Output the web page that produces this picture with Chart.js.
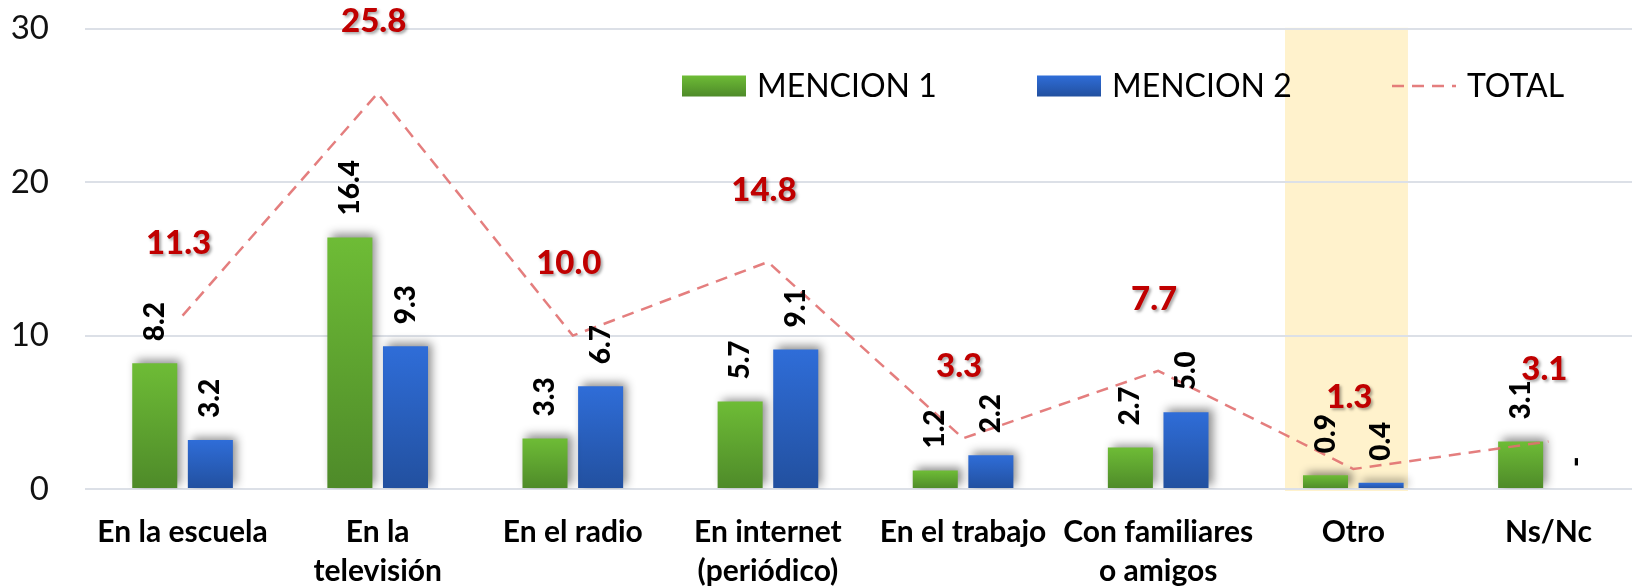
<!DOCTYPE html>
<html>
<head>
<meta charset="utf-8">
<script src="https://cdn.jsdelivr.net/npm/chart.js@4"></script>
<style>
  html, body { margin: 0; padding: 0; background: #ffffff; overflow: hidden; }
  #wrap { position: absolute; left: 0; top: -27px; width: 1646px; height: 614px; }
</style>
</head>
<body>
<div id="wrap"><canvas id="c"></canvas></div>
<script>
// ---- data ----
const categories = ["En la escuela", ["En la", "televisión"], "En el radio", ["En internet", "(periódico)"], "En el trabajo", ["Con familiares", "o amigos"], "Otro", "Ns/Nc"];
const mencion1 = [8.2, 16.4, 3.3, 5.7, 1.2, 2.7, 0.9, 3.1];
const mencion2 = [3.2, 9.3, 6.7, 9.1, 2.2, 5.0, 0.4, null];
const total = [11.3, 25.8, 10.0, 14.8, 3.3, 7.7, 1.3, 3.1];
const yTicks = [0, 10, 20, 30];
const highlightIndex = 6; // "Otro"

// ---- styles ----
const GREEN = ["#6EBC36", "#4E8A29"];
const BLUE = ["#2F6DD8", "#22509F"];
const LINE_COLOR = "rgba(225,112,112,0.9)";
const FONT = "Lato, 'Open Sans', sans-serif";
const SHIFT = 27; // canvas is shifted up by this many pixels

function barGradient(cols) {
  return function (ctx) {
    const chart = ctx.chart;
    if (!chart.chartArea || ctx.type !== "data") return cols[1];
    const ys = chart.scales.y;
    const v = ctx.raw;
    if (v == null) return cols[1];
    const y0 = ys.getPixelForValue(0), y1 = ys.getPixelForValue(v);
    if (Math.abs(y0 - y1) < 1) return cols[0];
    const g = chart.ctx.createLinearGradient(0, y1, 0, y0);
    g.addColorStop(0, cols[0]);
    g.addColorStop(1, cols[1]);
    return g;
  };
}

const bgPlugin = {
  id: "bg",
  beforeDraw(chart) {
    const c = chart.ctx, a = chart.chartArea, xs = chart.scales.x;
    c.save();
    c.fillStyle = "#ffffff";
    c.fillRect(0, 0, chart.width, chart.height);
    const w = xs.width / categories.length;
    const cx = xs.getPixelForValue(highlightIndex);
    c.fillStyle = "#FFF2CC";
    c.fillRect(cx - 0.35 * w, a.top - 1, 0.63 * w, a.bottom - a.top + 3);
    c.restore();
  }
};

const shadowPlugin = {
  id: "barShadow",
  beforeDatasetDraw(chart, args) {
    if (chart.data.datasets[args.index].type === "line") return;
    const c = chart.ctx;
    c.save();
    c.shadowColor = "rgba(0,0,0,0.45)";
    c.shadowBlur = 9;
    c.shadowOffsetX = 4;
    c.shadowOffsetY = -3;
  },
  afterDatasetDraw(chart, args) {
    if (chart.data.datasets[args.index].type === "line") return;
    chart.ctx.restore();
  }
};

const labelPlugin = {
  id: "labels",
  afterDatasetsDraw(chart) {
    const c = chart.ctx;
    const ys = chart.scales.y;
    chart.data.datasets.forEach((ds, di) => {
      const meta = chart.getDatasetMeta(di);
      if (ds.type === "line") {
        meta.data.forEach((pt, i) => {
          c.save();
          c.font = "900 33px " + FONT;
          c.fillStyle = "#C00000";
          c.textAlign = "center";
          c.textBaseline = "middle";
          c.shadowColor = "rgba(0,0,0,0.35)";
          c.shadowBlur = 3;
          c.shadowOffsetX = 2;
          c.shadowOffsetY = 2;
          c.fillText(ds.data[i].toFixed(1), pt.x - 4, pt.y - 72);
          c.restore();
        });
      } else {
        meta.data.forEach((el, i) => {
          const v = ds.data[i];
          const top = v == null ? ys.getPixelForValue(0) : el.y;
          const txt = v == null ? "-" : v.toFixed(1);
          c.save();
          c.font = "900 28px " + FONT;
          c.fillStyle = "#000000";
          c.translate(el.x, top - 22);
          c.rotate(-Math.PI / 2);
          c.textAlign = "left";
          c.textBaseline = "middle";
          c.fillText(txt, 0, 0);
          c.restore();
        });
      }
    });
  }
};

const legendPlugin = {
  id: "customLegend",
  afterDraw(chart) {
    const c = chart.ctx;
    const y = 86 + SHIFT;
    const startX = 682, step = 355, boxW = 64, boxH = 21;
    chart.data.datasets.forEach((ds, i) => {
      const x = startX + i * step;
      c.save();
      if (ds.type === "line") {
        c.strokeStyle = LINE_COLOR;
        c.lineWidth = 2.5;
        c.setLineDash([12, 8]);
        c.beginPath();
        c.moveTo(x, y);
        c.lineTo(x + boxW, y);
        c.stroke();
      } else {
        const cols = i === 0 ? GREEN : BLUE;
        const g = c.createLinearGradient(0, y - boxH / 2, 0, y + boxH / 2);
        g.addColorStop(0, cols[0]);
        g.addColorStop(1, cols[1]);
        c.fillStyle = g;
        c.fillRect(x, y - boxH / 2, boxW, boxH);
      }
      c.setLineDash([]);
      c.font = "32px " + FONT;
      c.fillStyle = "#000000";
      c.textAlign = "left";
      c.textBaseline = "middle";
      c.fillText(ds.label, x + boxW + 11, y + 1);
      c.restore();
    });
  }
};

new Chart(document.getElementById("c"), {
  data: {
    labels: categories,
    datasets: [
      { type: "bar", label: "MENCION 1", data: mencion1, backgroundColor: barGradient(GREEN), order: 1,
        categoryPercentage: 0.57, barPercentage: 0.81 },
      { type: "bar", label: "MENCION 2", data: mencion2, backgroundColor: barGradient(BLUE), order: 1,
        categoryPercentage: 0.57, barPercentage: 0.81 },
      { type: "line", label: "TOTAL", data: total, borderColor: LINE_COLOR, borderWidth: 2.5,
        borderDash: [12, 8], pointRadius: 0, tension: 0, fill: false, order: 0 }
    ]
  },
  options: {
    responsive: true,
    maintainAspectRatio: false,
    animation: false,
    layout: { padding: { top: 0, left: 0, right: 0, bottom: 0 } },
    plugins: { legend: { display: false }, tooltip: { enabled: false } },
    scales: {
      x: {
        grid: { display: false, drawTicks: false },
        border: { display: false },
        ticks: {
          color: "#000000",
          font: { family: FONT, size: 30, weight: "bold", lineHeight: 1.3 },
          padding: 24, maxRotation: 0, minRotation: 0, autoSkip: false
        },
        afterFit(s) { s.height = 98; }
      },
      y: {
        min: 0, max: 30,
        afterBuildTicks(s) { s.ticks = yTicks.map(v => ({ value: v })); },
        grid: { color: "#DCE0E7", lineWidth: 2, drawTicks: false },
        border: { display: false },
        ticks: {
          color: "#111111",
          font: { family: FONT, size: 33 },
          padding: 36
        },
        afterFit(s) { s.width = 85; }
      }
    }
  },
  plugins: [bgPlugin, shadowPlugin, labelPlugin, legendPlugin]
});
</script>
</body>
</html>
